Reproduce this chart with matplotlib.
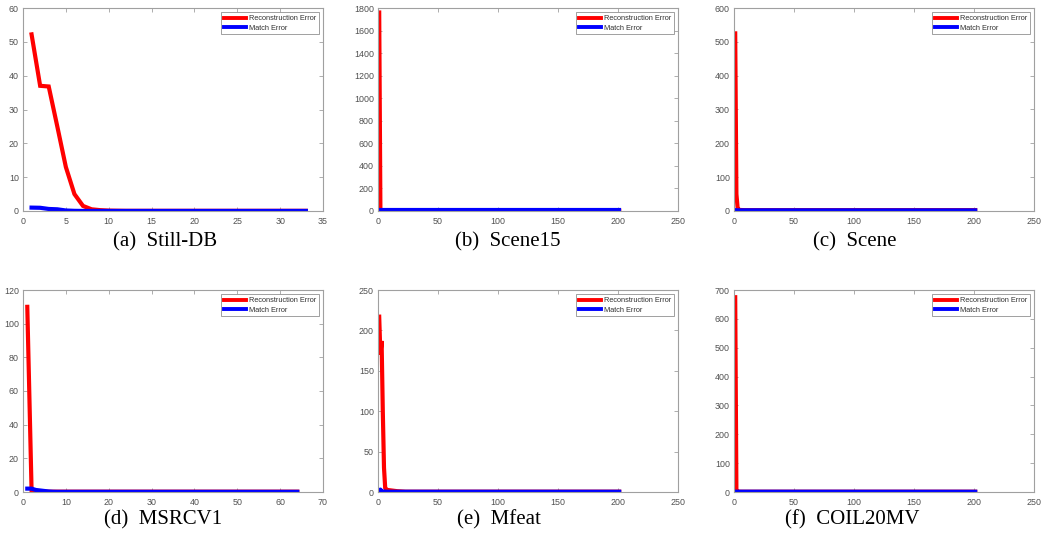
import matplotlib
matplotlib.use("Agg")
import matplotlib.pyplot as plt

# ---------------- data ----------------
stilldb_recon = [52.2, 37.0, 36.8, 25.0, 13.0, 5.0, 1.5, 0.5, 0.25, 0.12, 0.08] + [0.05] * 22
stilldb_match = [1.0, 0.95, 0.6, 0.5, 0.15, 0.05] + [0.02] * 27

scene15_recon = [1760, 6, 4, 3.5, 3] + [3.0] * 196
scene15_match = [5, 5, 5, 5, 5] + [5.0] * 196

scene_recon = [525, 50, 10, 4, 3, 2.8, 2.6] + [2.5] * 194
scene_match = [2.5, 2.2, 2.0, 2.0] + [1.8] * 197

msrc_recon = [110, 1.0, 0.6, 0.4, 0.3] + [0.2] * 59
msrc_match = [2.0, 2.0, 1.2, 0.9, 0.6, 0.3, 0.15] + [0.1] * 57

mfeat_recon = [217, 170, 187, 100, 30, 5, 3.0, 2.5, 2.3, 2.1, 2.0, 1.8, 1.6, 1.4, 1.2, 1.0,
               0.9, 0.8, 0.7, 0.6, 0.5] + [0.4] * 180
mfeat_match = [1.0, 3.0, 1.0, 0.6, 0.5] + [0.3] * 196

coil_recon = [675, 2.0, 1.5, 1.2] + [1.0] * 197
coil_match = [1.0, 1.0, 1.0] + [0.8] * 198

captions = ["(a)  Still-DB", "(b)  Scene15", "(c)  Scene", "(d)  MSRCV1", "(e)  Mfeat", "(f)  COIL20MV"]
legend_labels = ["Reconstruction Error", "Match Error"]
xlims = [35, 250, 250, 70, 250, 250]
xsteps = [5, 50, 50, 10, 50, 50]
ylims = [60, 1800, 600, 120, 250, 700]
ysteps = [10, 200, 100, 20, 50, 100]

series = [(stilldb_recon, stilldb_match), (scene15_recon, scene15_match),
          (scene_recon, scene_match), (msrc_recon, msrc_match),
          (mfeat_recon, mfeat_match), (coil_recon, coil_match)]

# ---------------- layout ----------------
W, H = 1041, 540
fig = plt.figure(figsize=(W / 100, H / 100), dpi=100)

lefts = [23, 378, 734]
tops = [8, 290]
bottoms = [211, 492]
aw = 300

cap_x = [165, 508, 855, 163, 499, 852]
cap_base = [246, 524]

spine_col = "#a0a0a0"
tick_col = "#505050"

for i, (rec, mat) in enumerate(series):
    r, c = divmod(i, 3)
    l = lefts[c]
    t = tops[r]
    b = bottoms[r]
    ax = fig.add_axes([l / W, 1 - b / H, aw / W, (b - t) / H])
    x_rec = list(range(1, len(rec) + 1))
    x_mat = list(range(1, len(mat) + 1))
    ax.plot(x_rec, rec, color="#ff0000", lw=3, label=legend_labels[0], solid_joinstyle="miter")
    ax.plot(x_mat, mat, color="#0000ff", lw=3, label=legend_labels[1])
    ax.set_xlim(0, xlims[i])
    ax.set_ylim(0, ylims[i])
    ax.set_xticks(list(range(0, xlims[i] + 1, xsteps[i])))
    ax.set_yticks(list(range(0, ylims[i] + 1, ysteps[i])))
    ax.tick_params(direction="in", length=3, width=0.6, top=True, right=True,
                   labelsize=6.4, colors=spine_col, labelcolor=tick_col)
    ax.tick_params(axis="x", pad=4)
    ax.tick_params(axis="y", pad=3)
    for lab in ax.get_xticklabels() + ax.get_yticklabels():
        lab.set_family("Liberation Sans")
    for s in ax.spines.values():
        s.set_color(spine_col)
        s.set_linewidth(0.8)
    leg = ax.legend(loc="upper right", prop={"family": "Liberation Sans", "size": 5.3},
                    handlelength=3.0, handletextpad=0.4,
                    borderpad=0.4, labelspacing=0.3, fancybox=False, framealpha=1,
                    borderaxespad=0.55)
    leg.get_frame().set_edgecolor("#909090")
    leg.get_frame().set_linewidth(0.6)
    for text in leg.get_texts():
        text.set_color("#303030")
    for line in leg.get_lines():
        line.set_linewidth(2.8)
    fig.text(cap_x[i] / W, 1 - cap_base[r] / H, captions[i], ha="center", va="baseline",
             fontsize=15, family="Liberation Serif")

fig.savefig("out.png", dpi=100)
